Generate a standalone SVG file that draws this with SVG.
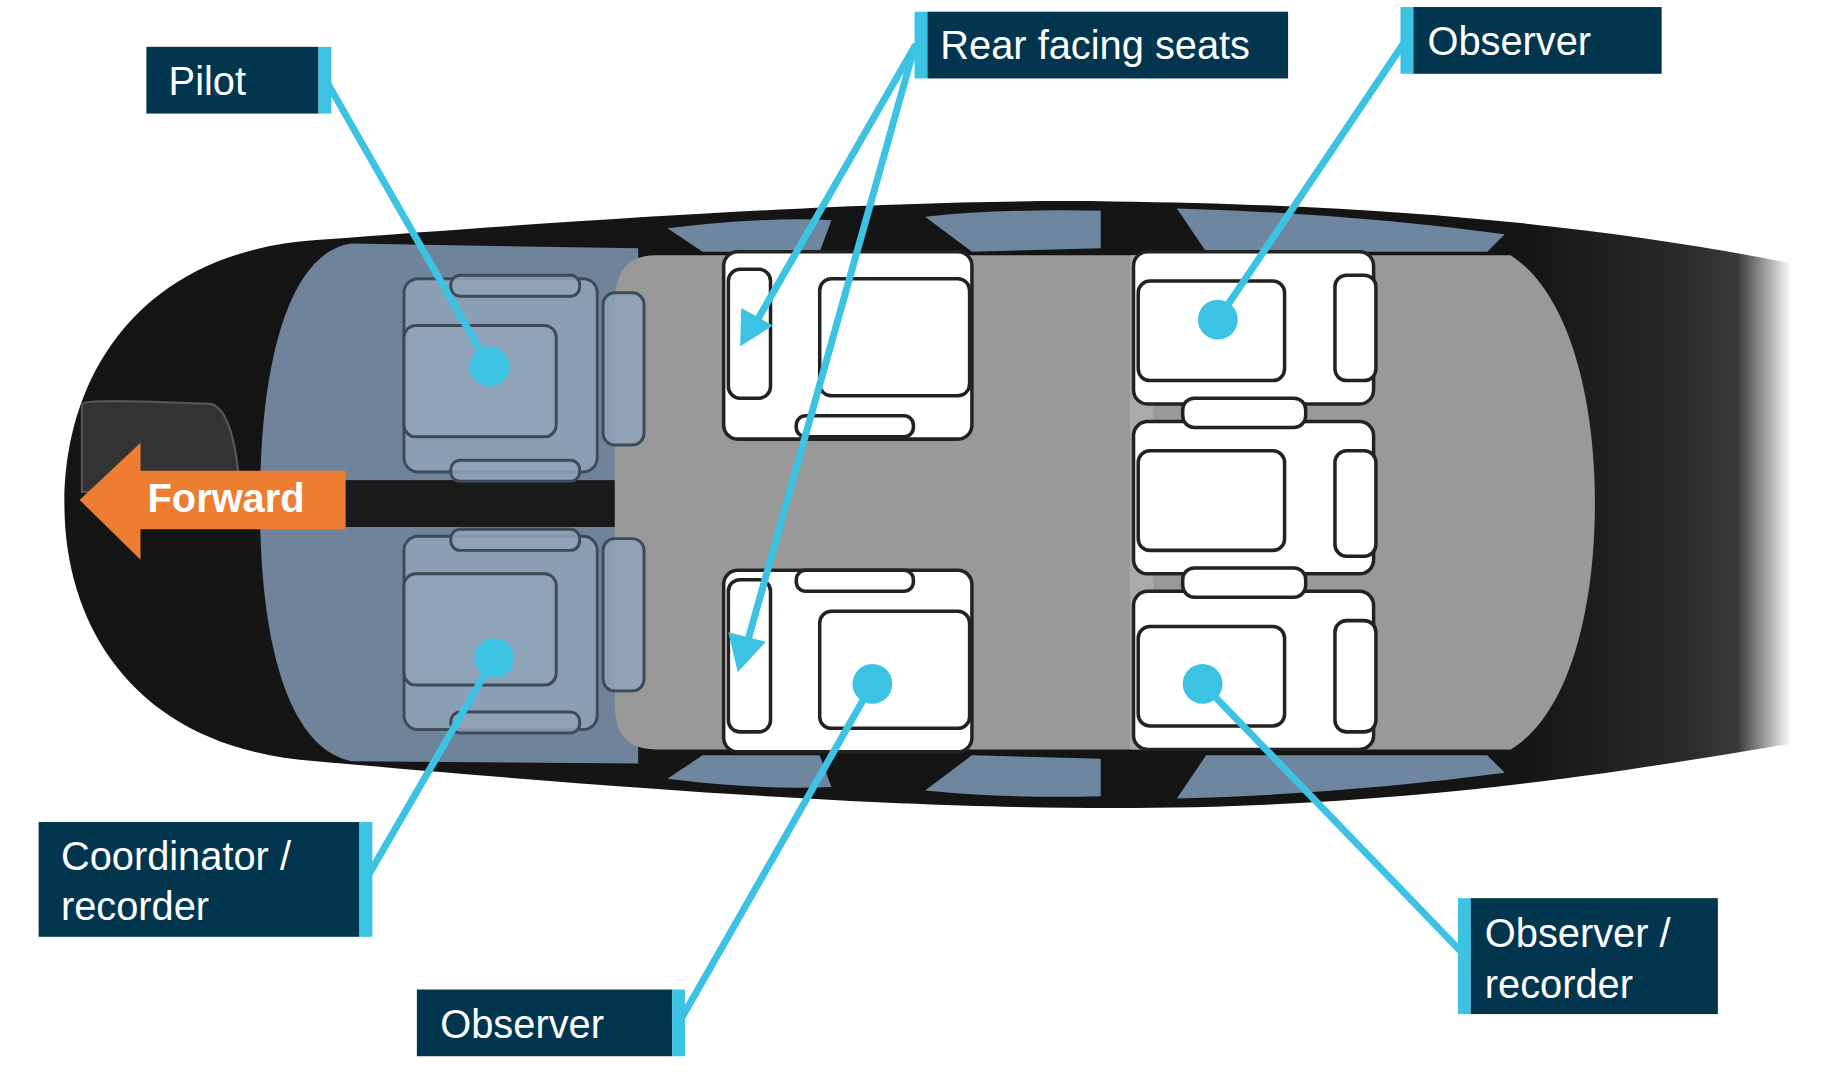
<svg xmlns="http://www.w3.org/2000/svg" width="1835" height="1072" viewBox="0 0 1835 1072">
<defs>
<style>
.lbl{fill:#02364F}
.stripe{fill:#3CC3E4}
.t{font-family:"Liberation Sans",Arial,sans-serif;font-size:34px;fill:#fff}
.ln{stroke:#3CC3E4;stroke-width:6;fill:none;stroke-linecap:round}
.dot{fill:#3CC3E4}
.seat{fill:#fff;stroke:#222;stroke-width:3}
.cseat{fill:#8FA3B8;stroke:#3d4a57;stroke-width:2.5;fill-opacity:0.85}
.win{fill:#6F86A0}
</style>
<linearGradient id="body" gradientUnits="userSpaceOnUse" x1="1300" y1="0" x2="1530" y2="0">
<stop offset="0" stop-color="#151515"/><stop offset="0.6" stop-color="#2a2a2a"/><stop offset="0.8" stop-color="#3a3a3a"/><stop offset="1" stop-color="#ffffff"/>
</linearGradient>
</defs>
<rect width="1835" height="1072" fill="#fff"/>
<g transform="scale(1.171)">
<g id="fuselage">
<path d="M270,205 C600,180 800,170 950,172 C1200,175 1380,195 1530,225 L1530,635 C1380,660 1200,690 950,690 C800,690 600,680 270,650 C120,640 55,540 55,430 C55,320 120,215 270,205 Z" fill="url(#body)"/>
<path d="M70,345 Q70,340 180,345 Q200,350 205,420 L70,420 Z" fill="#333" stroke="#555" stroke-width="2"/>
<path d="M300,208 L545,212 L545,652 L300,650 C250,640 222,560 222,430 C222,300 250,215 300,208 Z" fill="#6F849A"/>
<rect x="295" y="410" width="235" height="40" fill="#1a1a1a"/>
<path d="M560,218 L1290,218 C1340,250 1362,340 1362,430 C1362,520 1340,610 1290,640 L560,640 C530,640 525,620 525,600 L525,260 C525,240 530,218 560,218 Z" fill="#999"/>
<rect x="965" y="218" width="20" height="422" fill="#aaa"/>
<path d="M570,195 Q650,185 710,188 L700,215 L600,215 Z" class="win"/>
<path d="M790,185 Q860,178 940,180 L940,212 L830,215 Z" class="win"/>
<path d="M1005,178 Q1150,182 1285,200 L1270,215 L1030,215 Z" class="win"/>
<path d="M570,665 Q650,675 710,672 L700,645 L600,645 Z" class="win"/>
<path d="M790,675 Q860,682 940,680 L940,648 L830,645 Z" class="win"/>
<path d="M1005,682 Q1150,678 1285,660 L1270,645 L1030,645 Z" class="win"/>
</g>
<g id="seats">
<rect x="345" y="238" width="165" height="165" rx="12" class="cseat"/>
<rect x="345" y="278" width="130" height="95" rx="10" class="cseat"/>
<rect x="515" y="250" width="35" height="130" rx="10" class="cseat"/>
<rect x="385" y="235" width="110" height="18" rx="8" class="cseat"/>
<rect x="385" y="393" width="110" height="18" rx="8" class="cseat"/>
<rect x="345" y="458" width="165" height="165" rx="12" class="cseat" fill="#B5C5D6"/>
<rect x="345" y="490" width="130" height="95" rx="10" class="cseat" fill="#B5C5D6"/>
<rect x="515" y="460" width="35" height="130" rx="10" class="cseat"/>
<rect x="385" y="452" width="110" height="18" rx="8" class="cseat"/>
<rect x="385" y="608" width="110" height="18" rx="8" class="cseat"/>
<rect x="618" y="215" width="212" height="160" rx="12" class="seat"/>
<rect x="700" y="238" width="128" height="100" rx="10" class="seat"/>
<rect x="622" y="230" width="36" height="110" rx="10" class="seat"/>
<rect x="680" y="355" width="100" height="18" rx="8" class="seat"/>
<rect x="618" y="487" width="212" height="155" rx="12" class="seat"/>
<rect x="700" y="522" width="128" height="100" rx="10" class="seat"/>
<rect x="622" y="495" width="36" height="130" rx="10" class="seat"/>
<rect x="680" y="487" width="100" height="18" rx="8" class="seat"/>
<rect x="968" y="215" width="205" height="130" rx="12" class="seat"/>
<rect x="972" y="240" width="125" height="85" rx="10" class="seat"/>
<rect x="1140" y="235" width="35" height="90" rx="10" class="seat"/>
<rect x="968" y="360" width="205" height="130" rx="12" class="seat"/>
<rect x="972" y="385" width="125" height="85" rx="10" class="seat"/>
<rect x="1140" y="385" width="35" height="90" rx="10" class="seat"/>
<rect x="1010" y="340" width="105" height="25" rx="10" class="seat"/>
<rect x="968" y="505" width="205" height="135" rx="12" class="seat"/>
<rect x="972" y="535" width="125" height="85" rx="10" class="seat"/>
<rect x="1140" y="530" width="35" height="95" rx="10" class="seat"/>
<rect x="1010" y="485" width="105" height="25" rx="10" class="seat"/>
</g>
<g id="forward">
<path d="M68,427 L120,378 L120,402 L295,402 L295,452 L120,452 L120,478 Z" fill="#ED7D31"/>
<text x="126" y="437" class="t" font-weight="bold" font-size="33">Forward</text>
</g>
<g id="connectors">
<line x1="278" y1="68" x2="418" y2="313" class="ln"/>
<line x1="781" y1="40" x2="640" y2="285" class="ln"/>
<line x1="781" y1="40" x2="635" y2="560" class="ln"/>
<path d="M632,296 L633,263 L660,278 Z" fill="#3CC3E4"/>
<path d="M630,574 L622,540 L654,548 Z" fill="#3CC3E4"/>
<line x1="1200" y1="35" x2="1040" y2="273" class="ln"/>
<line x1="312" y1="752" x2="422" y2="562" class="ln"/>
<line x1="580" y1="873" x2="745" y2="584" class="ln"/>
<line x1="1250" y1="815" x2="1027" y2="584" class="ln"/>
<circle cx="418" cy="313" r="17" class="dot"/>
<circle cx="1040" cy="273" r="17" class="dot"/>
<circle cx="422" cy="562" r="17" class="dot"/>
<circle cx="745" cy="584" r="17" class="dot"/>
<circle cx="1027" cy="584" r="17" class="dot"/>
</g>
<g id="pilot"><rect x="125" y="40" width="147" height="57" class="lbl"/><rect x="272" y="40" width="11" height="57" class="stripe"/><text x="144" y="81" class="t">Pilot</text></g>
<g id="rear"><rect x="781" y="10" width="11" height="57" class="stripe"/><rect x="792" y="10" width="308" height="57" class="lbl"/><text x="803" y="50" class="t">Rear facing seats</text></g>
<g id="obs-top"><rect x="1196" y="6" width="11" height="57" class="stripe"/><rect x="1207" y="6" width="212" height="57" class="lbl"/><text x="1219" y="47" class="t">Observer</text></g>
<g id="coord"><rect x="33" y="702" width="274" height="98" class="lbl"/><rect x="307" y="702" width="11" height="98" class="stripe"/><text x="52" y="743" class="t">Coordinator /</text><text x="52" y="786" class="t">recorder</text></g>
<g id="obs-bot"><rect x="356" y="845" width="218" height="57" class="lbl"/><rect x="574" y="845" width="11" height="57" class="stripe"/><text x="376" y="886" class="t">Observer</text></g>
<g id="obs-rec"><rect x="1245" y="767" width="11" height="99" class="stripe"/><rect x="1256" y="767" width="211" height="99" class="lbl"/><text x="1268" y="809" class="t">Observer /</text><text x="1268" y="852" class="t">recorder</text></g>
</g>
</svg>
